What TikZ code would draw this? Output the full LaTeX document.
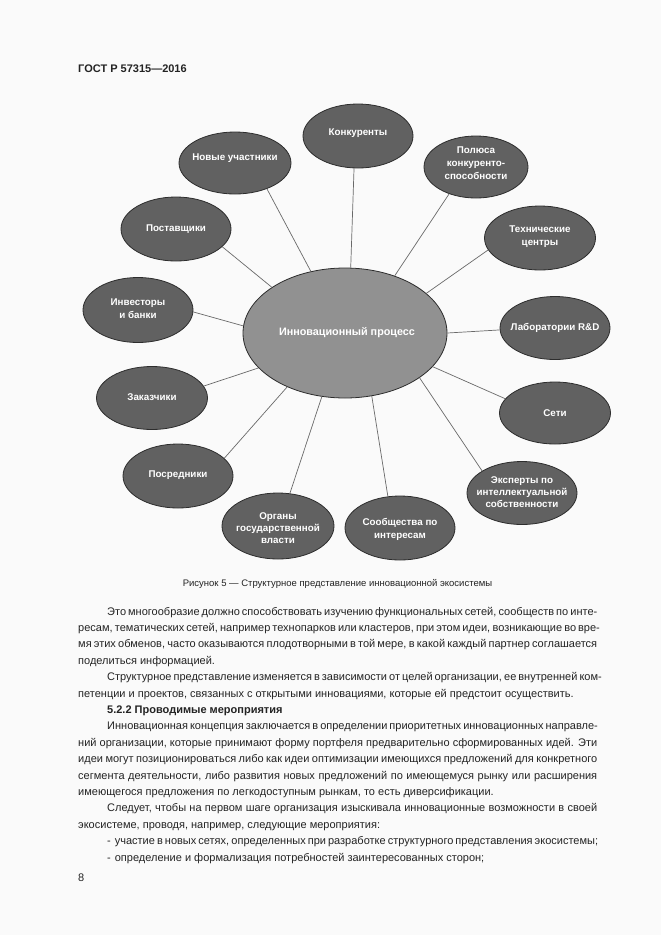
\documentclass[tikz,border=0pt]{standalone}
\usepackage{fontspec}
\setmainfont{Liberation Sans}
\usetikzlibrary{shapes.geometric}
\definecolor{pagebg}{RGB}{250,250,250}
\definecolor{bubgray}{RGB}{97,97,97}
\definecolor{midgray}{RGB}{145,145,145}
\definecolor{rimgray}{RGB}{45,45,45}
\definecolor{linkgray}{RGB}{105,105,105}
\definecolor{inkgray}{RGB}{35,35,35}
\newcommand\jfull[1]{\hbox to 519pt{#1}}
\newcommand\jind[1]{\hbox to 490pt{#1}}
\begin{document}
\begin{tikzpicture}[x=1pt,y=-1pt,
  bub/.style={ellipse, draw=rimgray, line width=0.8pt, fill=bubgray, inner sep=0pt},
  hub/.style={ellipse, draw=rimgray, line width=0.8pt, fill=midgray, inner sep=0pt},
  btxt/.style={text=white, font=\fontsize{9.8}{13}\selectfont\bfseries, align=center, inner sep=0pt},
  link/.style={draw=linkgray, line width=0.7pt},
  body/.style={anchor=base west, inner sep=0pt, text=inkgray, font=\fontsize{11}{13}\selectfont},
]
\fill[pagebg] (0,0) rectangle (661,935);
\useasboundingbox (0,0) rectangle (661,935);

% header
\node[body, font=\fontsize{11}{13}\selectfont\bfseries] (hdr) at (78,72) {ГОСТ Р 57315—2016};

% central
\node[hub, minimum width=204pt, minimum height=130pt] (c) at (345,333) {};
\node[btxt, font=\fontsize{10.8}{13}\selectfont\bfseries] (ct) at (347,333) {Инновационный процесс};

% outer ellipses
\node[bub, minimum width=110pt, minimum height=64pt] (konk) at (358,136) {};
\node[bub, minimum width=112pt, minimum height=62pt] (novye) at (235,163) {};
\node[bub, minimum width=104pt, minimum height=62pt] (polus) at (476,167) {};
\node[bub, minimum width=110pt, minimum height=64pt] (post) at (176,229) {};
\node[bub, minimum width=111pt, minimum height=64pt] (tech) at (540,238) {};
\node[bub, minimum width=110pt, minimum height=65pt] (inv) at (138,310) {};
\node[bub, minimum width=110pt, minimum height=63pt] (lab) at (555,328) {};
\node[bub, minimum width=111pt, minimum height=63pt] (zak) at (152,398) {};
\node[bub, minimum width=111pt, minimum height=62pt] (seti) at (555,413) {};
\node[bub, minimum width=110pt, minimum height=64pt] (posr) at (178,476) {};
\node[bub, minimum width=110pt, minimum height=63pt] (eksp) at (522,493) {};
\node[bub, minimum width=112pt, minimum height=66pt] (organ) at (278,526) {};
\node[bub, minimum width=110pt, minimum height=64pt] (soob) at (400,528) {};

% labels
\node[btxt] (konkt) at (358,133) {Конкуренты};
\node[btxt] (novyet) at (235,158) {Новые участники};
\node[btxt] (polust) at (476,163) {Полюса\\конкуренто-\\способности};
\node[btxt] (postt) at (176,229) {Поставщики};
\node[btxt] (techt) at (540,237) {Технические\\центры};
\node[btxt] (invt) at (138,309) {Инвесторы\\и банки};
\node[btxt] (labt) at (555,328) {Лаборатории R\&D};
\node[btxt] (zakt) at (152,397) {Заказчики};
\node[btxt] (setit) at (555,413) {Сети};
\node[btxt] (posrt) at (178,475) {Посредники};
\node[btxt, font=\fontsize{9.8}{12}\selectfont\bfseries] (ekspt) at (522,492) {Эксперты по\\интеллектуальной\\собственности};
\node[btxt, font=\fontsize{9.8}{12}\selectfont\bfseries] (organt) at (278,528) {Органы\\государственной\\власти};
\node[btxt] (soobt) at (400,529) {Сообщества по\\интересам};

% connectors
\draw[link] (konk.263) -- (c.85.6);
\draw[link] (novye.-39.5) -- (c.119.8);
\draw[link] (polus.-135) -- (c.49.5);
\draw[link] (tech.193) -- (c.26.6);
\draw[link] (lab.182) -- (c.0);
\draw[link] (seti.164) -- (c.-21.9);
\draw[link] (eksp.151) -- (c.-31.4);
\draw[link] (soob.111) -- (c.-67.6);
\draw[link] (organ.70.6) -- (c.-110.7);
\draw[link] (posr.21) -- (c.-137.5);
\draw[link] (zak.13.8) -- (c.-158.5);
\draw[link] (inv.-2) -- (c.176.6);
\draw[link] (post.-21) -- (c.148);

% caption
\node[inner sep=0pt, text=inkgray, font=\fontsize{9.5}{12}\selectfont] (cap) at (337.5,584) {Рисунок 5 — Структурное представление инновационной экосистемы};

% body text
\node[body] (l1) at (107,615) {\jind{Это многообразие должно способствовать изучению функциональных сетей, сообществ по инте-}};
\node[body] (l2) at (78,631.4) {\jfull{ресам, тематических сетей, например технопарков или кластеров, при этом идеи, возникающие во вре-}};
\node[body] (l3) at (78,647.8) {\jfull{мя этих обменов, часто оказываются плодотворными в той мере, в какой каждый партнер соглашается}};
\node[body] (l4) at (78,664.2) {поделиться информацией.};
\node[body] (l5) at (107,680.6) {\jind{Структурное представление изменяется в зависимости от целей организации, ее внутренней ком-}};
\node[body] (l6) at (78,697) {петенции и проектов, связанных с открытыми инновациями, которые ей предстоит осуществить.};
\node[body, font=\fontsize{11}{13}\selectfont\bfseries] (l7) at (107,713.4) {5.2.2 Проводимые мероприятия};
\node[body] (l8) at (107,729.8) {\jind{Инновационная концепция заключается в определении приоритетных инновационных направле-}};
\node[body] (l9) at (78,746.2) {\jfull{ний организации, которые принимают форму портфеля предварительно сформированных идей. Эти}};
\node[body] (l10) at (78,762.6) {\jfull{идеи могут позиционироваться либо как идеи оптимизации имеющихся предложений для конкретного}};
\node[body] (l11) at (78,779) {\jfull{сегмента деятельности, либо развития новых предложений по имеющемуся рынку или расширения}};
\node[body] (l12) at (78,795.4) {имеющегося предложения по легкодоступным рынкам, то есть диверсификации.};
\node[body] (l13) at (107,811.8) {\jind{Следует, чтобы на первом шаге организация изыскивала инновационные возможности в своей}};
\node[body] (l14) at (78,828.2) {экосистеме, проводя, например, следующие мероприятия:};
\node[body] (l15) at (107,844.6) {\jind{-\hskip 4pt участие в новых сетях, определенных при разработке структурного представления экосистемы;}};
\node[body] (l16) at (107,861) {-\hskip 4pt определение и формализация потребностей заинтересованных сторон;};
\node[body] (pg) at (78,881) {8};
\end{tikzpicture}
\end{document}
